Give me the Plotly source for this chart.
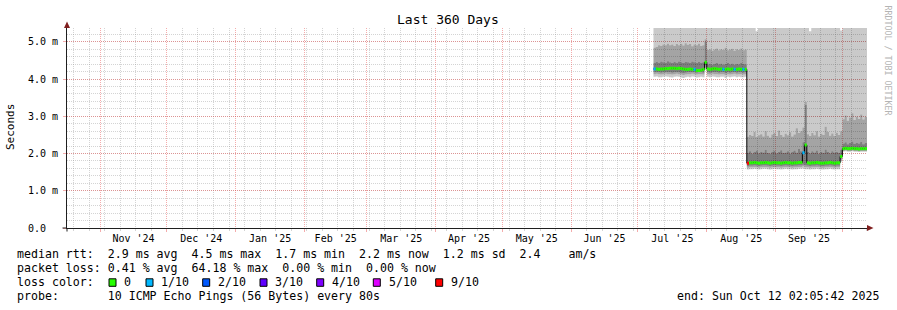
import plotly.graph_objects as go
import pandas as pd

# ---------------- data (milliseconds) ----------------
END = "2025-10-12 02:05:42"
START = "2024-10-17 02:05:42"
FIRST_DAY = "2025-07-08"

rtt_median = [
    4.27, 4.27, 4.26, 4.27, 4.27, 4.28, 4.28, 4.29, 4.29, 4.29,
    4.28, 4.29, 4.28, 4.27, 4.26, 4.26, 4.27, 4.26, 4.26, 4.23,
    4.23, 4.24, 4.26, 4.45, 4.27, 4.26, 4.27, 4.28, 4.27, 4.26,
    4.27, 4.26, 4.26, 4.27, 4.26, 4.27, 4.26, 4.26, 4.27, 4.26,
    4.26, 4.26, 1.74, 1.75, 1.75, 1.76, 1.75, 1.74, 1.75, 1.75,
    1.76, 1.75, 1.74, 1.75, 1.76, 1.75, 1.75, 1.74, 1.75, 1.76,
    1.75, 1.75, 1.74, 1.75, 1.75, 1.76, 1.76, 2.02, 2.23, 1.75,
    1.74, 1.75, 1.75, 1.76, 1.75, 1.74, 1.74, 1.75, 1.75, 1.76,
    1.75, 1.74, 1.75, 1.75, 1.92, 2.13, 2.14, 2.13, 2.13, 2.14,
    2.13, 2.13, 2.12, 2.13, 2.13, 2.13,
]

# lost pings (out of 10) per day
loss = [
    1, 0, 0, 0, 0, 0, 0, 0, 0, 0,
    0, 0, 0, 0, 0, 0, 0, 0, 1, 0,
    0, 0, 0, 0, 0, 0, 0, 0, 0, 0,
    0, 1, 0, 0, 0, 0, 1, 0, 0, 0,
    1, 0, 9, 0, 0, 0, 0, 0, 0, 0,
    0, 0, 0, 0, 0, 0, 0, 0, 0, 0,
    0, 0, 0, 0, 0, 0, 0, 1, 0, 0,
    0, 0, 0, 0, 0, 0, 0, 0, 0, 0,
    0, 0, 0, 0, 0, 0, 0, 0, 0, 0,
    0, 0, 0, 0, 0, 0,
]

rtt_max = [
    6.0, 6.0, 6.0, 6.0, 6.0, 6.0, 6.0, 6.0, 6.0, 6.0,
    6.0, 6.0, 6.0, 6.0, 6.0, 6.0, 6.0, 6.0, 6.0, 6.0,
    6.0, 6.0, 6.0, 6.0, 6.0, 6.0, 6.0, 6.0, 6.0, 6.0,
    6.0, 6.0, 6.0, 6.0, 6.0, 6.0, 6.0, 6.0, 6.0, 6.0,
    6.0, 6.0, 6.0, 6.0, 6.0, 6.0, 5.28, 6.0, 6.0, 6.0,
    6.0, 6.0, 6.0, 6.0, 6.0, 6.0, 6.0, 6.0, 6.0, 6.0,
    6.0, 6.0, 6.0, 6.0, 6.0, 6.0, 6.0, 6.0, 6.0, 6.0,
    5.28, 6.0, 6.0, 6.0, 6.0, 6.0, 6.0, 6.0, 6.0, 6.0,
    6.0, 6.0, 6.0, 6.0, 5.30, 6.0, 6.0, 6.0, 6.0, 6.0,
    6.0, 6.0, 6.0, 6.0, 6.0, 6.0,
]

rtt_p9 = [
    4.84, 4.86, 4.91, 4.89, 4.93, 4.91, 4.95, 4.91, 4.93, 4.89,
    4.94, 4.91, 4.95, 4.90, 4.96, 4.92, 4.94, 4.88, 4.93, 4.91,
    4.95, 4.89, 4.91, 5.07, 4.78, 4.80, 4.76, 4.79, 4.82, 4.77,
    4.80, 4.78, 4.84, 4.77, 4.79, 4.81, 4.76, 4.80, 4.78, 4.82,
    4.77, 4.79, 2.45, 2.50, 2.47, 2.58, 2.44, 2.49, 2.52, 2.46,
    2.60, 2.48, 2.43, 2.51, 2.55, 2.47, 2.62, 2.50, 2.45, 2.53,
    2.49, 2.57, 2.46, 2.51, 2.68, 2.55, 2.60, 2.70, 3.38, 2.52,
    2.47, 2.55, 2.49, 2.60, 2.46, 2.53, 2.50, 2.72, 2.58, 2.48,
    2.54, 2.47, 2.56, 2.50, 2.60, 2.92, 3.02, 2.88, 2.97, 3.08,
    2.90, 2.99, 2.93, 3.05, 2.91, 2.98,
]

rtt_p8 = [
    4.44, 4.46, 4.43, 4.47, 4.45, 4.44, 4.48, 4.45, 4.43, 4.46,
    4.44, 4.47, 4.45, 4.43, 4.46, 4.45, 4.44, 4.47, 4.45, 4.43,
    4.46, 4.44, 4.45, 5.00, 4.40, 4.42, 4.39, 4.41, 4.43, 4.40,
    4.42, 4.39, 4.41, 4.44, 4.40, 4.42, 4.39, 4.41, 4.40, 4.43,
    4.41, 4.40, 2.02, 2.06, 2.00, 2.04, 2.08, 2.01, 2.05, 2.03,
    2.10, 2.02, 2.00, 2.05, 2.07, 2.01, 2.04, 2.09, 2.02, 2.03,
    2.06, 2.00, 2.05, 2.08, 2.03, 2.12, 2.06, 2.30, 3.30, 2.04,
    2.01, 2.06, 2.03, 2.08, 2.00, 2.05, 2.02, 2.11, 2.04, 2.01,
    2.06, 2.03, 2.05, 2.02, 2.10, 2.27, 2.30, 2.25, 2.28, 2.32,
    2.26, 2.29, 2.27, 2.31, 2.25, 2.28,
]

rtt_p3 = [
    4.18, 4.19, 4.18, 4.17, 4.18, 4.19, 4.18, 4.18, 4.17, 4.18,
    4.19, 4.18, 4.17, 4.16, 4.17, 4.18, 4.18, 4.19, 4.18, 4.17,
    4.18, 4.18, 4.17, 4.36, 4.18, 4.17, 4.19, 4.18, 4.18, 4.17,
    4.18, 4.18, 4.16, 4.18, 4.17, 4.18, 4.19, 4.17, 4.18, 4.18,
    4.17, 4.18, 1.66, 1.67, 1.67, 1.68, 1.67, 1.66, 1.67, 1.68,
    1.68, 1.67, 1.66, 1.67, 1.68, 1.67, 1.67, 1.66, 1.67, 1.68,
    1.67, 1.67, 1.66, 1.67, 1.67, 1.68, 1.68, 1.70, 1.68, 1.67,
    1.66, 1.67, 1.67, 1.68, 1.67, 1.66, 1.66, 1.67, 1.67, 1.68,
    1.67, 1.66, 1.67, 1.67, 1.86, 2.09, 2.10, 2.09, 2.09, 2.10,
    2.09, 2.09, 2.08, 2.09, 2.09, 2.09,
]

rtt_p2 = [
    4.13, 4.14, 4.13, 4.12, 4.13, 4.14, 4.13, 4.13, 4.12, 4.13,
    4.14, 4.13, 4.12, 4.11, 4.12, 4.13, 4.13, 4.14, 4.13, 4.12,
    4.13, 4.13, 4.12, 4.30, 4.13, 4.12, 4.14, 4.13, 4.13, 4.12,
    4.13, 4.13, 4.11, 4.13, 4.12, 4.13, 4.14, 4.12, 4.13, 4.13,
    4.12, 4.13, 1.62, 1.63, 1.63, 1.64, 1.63, 1.62, 1.63, 1.64,
    1.64, 1.63, 1.62, 1.63, 1.64, 1.63, 1.63, 1.62, 1.63, 1.64,
    1.63, 1.63, 1.62, 1.63, 1.63, 1.64, 1.64, 1.66, 1.63, 1.63,
    1.62, 1.63, 1.63, 1.64, 1.63, 1.62, 1.62, 1.63, 1.63, 1.64,
    1.63, 1.62, 1.63, 1.63, 1.82, 2.07, 2.08, 2.07, 2.07, 2.08,
    2.07, 2.07, 2.06, 2.07, 2.07, 2.07,
]

rtt_min = [
    4.06, 4.07, 4.05, 4.05, 4.06, 4.07, 4.06, 4.05, 4.04, 4.06,
    4.07, 4.06, 4.04, 4.03, 4.05, 4.06, 4.05, 4.07, 4.06, 4.04,
    4.05, 4.06, 4.05, 4.24, 4.06, 4.05, 4.07, 4.06, 4.05, 4.05,
    4.06, 4.06, 4.03, 4.06, 4.05, 4.06, 4.07, 4.05, 4.06, 4.05,
    4.05, 4.06, 1.57, 1.58, 1.58, 1.59, 1.58, 1.57, 1.58, 1.59,
    1.59, 1.58, 1.57, 1.58, 1.59, 1.58, 1.58, 1.57, 1.58, 1.59,
    1.58, 1.58, 1.57, 1.58, 1.58, 1.59, 1.59, 1.60, 1.58, 1.58,
    1.57, 1.58, 1.58, 1.59, 1.58, 1.57, 1.57, 1.58, 1.58, 1.59,
    1.58, 1.57, 1.58, 1.58, 1.78, 2.05, 2.06, 2.05, 2.05, 2.06,
    2.05, 2.05, 2.04, 2.05, 2.05, 2.05,
]

y_tick_vals = [0, 1, 2, 3, 4, 5]
y_tick_text = ["0.0  ", "1.0 m", "2.0 m", "3.0 m", "4.0 m", "5.0 m"]

loss_labels = ["0", "1/10", "2/10", "3/10", "4/10", "5/10", "9/10"]
loss_keys = [0, 1, 2, 3, 4, 5, 9]
loss_colors = ["#26ff00", "#00b8ff", "#0059ff", "#5e00ff", "#7e00ff", "#dd00ff", "#ff0000"]

title_text = "Last 360 Days"
y_title = "Seconds"
legend_rtt = "median rtt:  2.9 ms avg  4.5 ms max  1.7 ms min  2.2 ms now  1.2 ms sd  2.4    am/s"
legend_loss = "packet loss: 0.41 % avg  64.18 % max  0.00 % min  0.00 % now"
legend_color = "loss color:"
legend_probe = "probe:       10 ICMP Echo Pings (56 Bytes) every 80s"
legend_end = "end: Sun Oct 12 02:05:42 2025"
watermark = "RRDTOOL / TOBI OETIKER"

for arr in (rtt_median, loss, rtt_max, rtt_p9, rtt_p8, rtt_p3, rtt_p2, rtt_min):
    assert len(arr) == 96, len(arr)

# ---------------- style ----------------
MONO = "DejaVu Sans Mono"
GRID = "rgba(143,143,143,0.38)"
MGRID = "rgba(230,70,70,0.45)"
AXIS = "#1f1f1f"
ARROW = "#801f1f"
SMOKE_A = "rgba(0,0,0,0.208)"   # -> #cacaca on white
SMOKE_B = "rgba(0,0,0,0.357)"   # -> #a4a4a4
SMOKE_C = "rgba(0,0,0,0.506)"   # -> #7e7e7e

PL, PT, PW, PH = 67, 28, 800, 200  # plot area in pixels


def paper(px, py):
    return (px - PL) / PW, (PT + PH - py) / PH


days = [d.strftime("%Y-%m-%d %H:%M:%S") for d in pd.date_range(FIRST_DAY, periods=len(rtt_median), freq="D")]
x_ext = days + [END]


def ext(a):
    return list(a) + [a[-1]]


fig = go.Figure()

# smoke (non-overlapping bands between consecutive pings)
layers = [(rtt_min, None), (rtt_p2, SMOKE_A), (rtt_p3, SMOKE_B), (rtt_p8, SMOKE_C),
          (rtt_p9, SMOKE_B), (rtt_max, SMOKE_A)]
for arr, col in layers:
    fig.add_trace(go.Scatter(
        x=x_ext, y=ext(arr), mode="lines",
        line=dict(width=0, shape="hv"),
        fill="tonexty" if col else None, fillcolor=col,
        hoverinfo="skip", showlegend=False))

# median black step line
fig.add_trace(go.Scatter(x=x_ext, y=ext(rtt_median), mode="lines",
                         line=dict(color="#000000", width=1, shape="hv"),
                         hoverinfo="skip", showlegend=False))

# loss-coloured median segments
for key, col in zip(loss_keys, loss_colors):
    xs, ys = [], []
    for i, (m, l) in enumerate(zip(rtt_median, loss)):
        if l == key:
            xs += [x_ext[i], x_ext[i + 1], None]
            ys += [m, m, None]
    if xs:
        fig.add_trace(go.Scatter(x=xs, y=ys, mode="lines",
                                 line=dict(color=col, width=3),
                                 hoverinfo="skip", showlegend=False))

fig.update_layout(
    width=897, height=310,
    margin=dict(l=PL, r=897 - PL - PW, t=PT, b=310 - PT - PH),
    paper_bgcolor="white", plot_bgcolor="white",
    showlegend=False,
    font=dict(family=MONO, size=10, color="black"),
)

fig.update_xaxes(
    type="date", range=[START, END],
    dtick="M1", tick0="2024-11-01", ticklabelmode="period", tickformat="%b '%y",
    showgrid=True, gridcolor=MGRID, griddash="1px,1px", gridwidth=1,
    ticks="outside", ticklen=3, tickcolor=MGRID, tickwidth=1,
    showline=True, linecolor=AXIS, linewidth=1, zeroline=False,
    tickfont=dict(family=MONO, size=10, color="black"),
    ticklabelstandoff=-2,
    minor=dict(dtick=7 * 86400000, tick0="2024-10-20", showgrid=True,
               gridcolor=GRID, griddash="1px,1px", gridwidth=1,
               ticks="outside", ticklen=2, tickcolor=GRID),
    fixedrange=True,
)

fig.update_yaxes(
    range=[0, 5.37],
    tickvals=y_tick_vals, ticktext=[t.replace(" ", "\u00a0") for t in y_tick_text],
    showgrid=True, gridcolor=MGRID, griddash="1px,1px", gridwidth=1,
    ticks="outside", ticklen=3, tickcolor=MGRID,
    showline=True, linecolor=AXIS, linewidth=1, zeroline=False,
    tickfont=dict(family=MONO, size=10, color="black"),
    ticklabelstandoff=3,
    minor=dict(dtick=0.2, tick0=0, showgrid=True, gridcolor=GRID,
               griddash="1px,1px", gridwidth=1),
    fixedrange=True,
)

# axis arrows
ax0, ay0 = paper(67, 228)
tipx, tipy = paper(67, 21.5)
_, basey = paper(67, 28)
hw = 3 / PW
fig.add_shape(type="path", xref="paper", yref="paper",
              path=f"M {ax0 - hw},{basey} L {ax0 + hw},{basey} L {tipx},{tipy} Z",
              fillcolor=ARROW, line=dict(width=0), layer="above")
rbx, _ = paper(867, 228)
rtx, _ = paper(873.5, 228)
hh = 3 / PH
fig.add_shape(type="path", xref="paper", yref="paper",
              path=f"M {rbx},{ay0 - hh} L {rbx},{ay0 + hh} L {rtx},{ay0} Z",
              fillcolor=ARROW, line=dict(width=0), layer="above")
# axis extensions beyond origin
fig.add_shape(type="line", xref="paper", yref="paper",
              x0=paper(62.5, 0)[0], x1=0, y0=0, y1=0, line=dict(color=AXIS, width=1))
fig.add_shape(type="line", xref="paper", yref="paper",
              x0=0, x1=0, y0=paper(0, 231.5)[1], y1=0, line=dict(color=AXIS, width=1))


def add_text(txt, px, py, xanchor="left", size=11.6, angle=0, color="black"):
    x, y = paper(px, py)
    fig.add_annotation(text=txt.replace(" ", "\u00a0"), x=x, y=y, xref="paper", yref="paper",
                       xanchor=xanchor, yanchor="middle", showarrow=False, borderpad=0,
                       font=dict(family=MONO, size=size, color=color), textangle=angle)


add_text(title_text, 448, 19.5, xanchor="center", size=13)
add_text(y_title, 10.5, 127.5, xanchor="center", size=11, angle=-90)
add_text(watermark, 887.5, 60, xanchor="center", size=8.3, angle=90, color="#b4b4b4")

row_y = [254.3, 268.3, 282.3, 296.3]
add_text(legend_rtt, 16, row_y[0])
add_text(legend_loss, 16, row_y[1])
add_text(legend_color, 16, row_y[2])
add_text(legend_probe, 16, row_y[3])
add_text(legend_end, 880, row_y[3], xanchor="right")

box_left = [109, 146, 202.7, 260, 316.7, 373.3, 435.7]
label_left = [123.3, 160, 217.3, 274, 331, 387.7, 450]
for lab, col, bx, lx in zip(loss_labels, loss_colors, box_left, label_left):
    x0, y0 = paper(bx, row_y[2] + 4)
    x1, y1 = paper(bx + 7, row_y[2] - 3.5)
    fig.add_shape(type="rect", xref="paper", yref="paper", x0=x0, x1=x1, y0=y0, y1=y1,
                  fillcolor=col, line=dict(color="black", width=1))
    add_text(lab, lx, row_y[2])

fig.write_html("out.html")
